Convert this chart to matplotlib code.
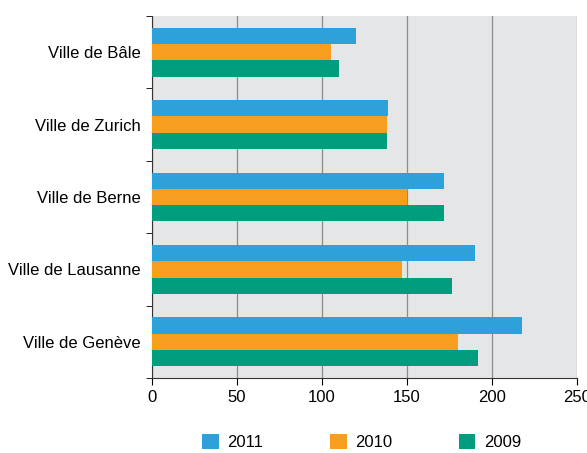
import numpy as np
import matplotlib
matplotlib.use("Agg")
import matplotlib.pyplot as plt
from matplotlib.patches import Patch

plt.rcParams['font.family'] = ['Liberation Sans', 'DejaVu Sans']
plt.rcParams['font.size'] = 12

villes = ["Ville de Bâle", "Ville de Zurich", "Ville de Berne", "Ville de Lausanne", "Ville de Genève"]
annees = ["2011", "2010", "2009"]
v2011 = [120, 139, 172, 190, 217.5]
v2010 = [105.5, 138.5, 150, 147, 180]
v2009 = [110, 138.5, 172, 176.5, 191.5]
couleurs = ["#2ea1da", "#f79e1e", "#009e7e"]

fig = plt.figure(figsize=(5.87, 4.53), dpi=100)
ax = fig.add_axes([152 / 587, 1 - 378 / 453, 425 / 587, 362 / 453])
ax.set_facecolor("#e5e6e8")

y = np.arange(len(villes))
h = 0.225
for i, (vals, c) in enumerate(zip([v2011, v2010, v2009], couleurs)):
    ax.barh(y + (i - 1) * h, vals, height=h, color=c, zorder=3)

ax.set_xlim(0, 250)
ax.set_ylim(len(villes) - 0.5, -0.5)
ax.set_xticks(np.arange(0, 251, 50))
ax.set_yticks(y)
ax.set_yticklabels(villes)
ax.set_yticks(np.arange(-0.5, len(villes)), minor=True)
ax.tick_params(axis='y', which='major', length=0, pad=8)
ax.tick_params(axis='y', which='minor', length=4, direction='out')
ax.tick_params(axis='x', length=5, direction='out', pad=4)
ax.xaxis.grid(True, color="#8c8c8c", linewidth=0.9, zorder=0)
ax.set_axisbelow(True)
for s in ['top', 'right']:
    ax.spines[s].set_visible(False)
ax.spines['left'].set_color('#333333')
ax.spines['bottom'].set_color('#333333')

handles = [Patch(facecolor=c, label=a) for c, a in zip(couleurs, annees)]
fig.legend(handles=handles, loc='center', bbox_to_anchor=(0.616, 1 - 442 / 453), ncol=3,
           frameon=False, handlelength=1.0, handleheight=1.0, columnspacing=4.0, handletextpad=0.5)

fig.savefig("out.png", dpi=100)
